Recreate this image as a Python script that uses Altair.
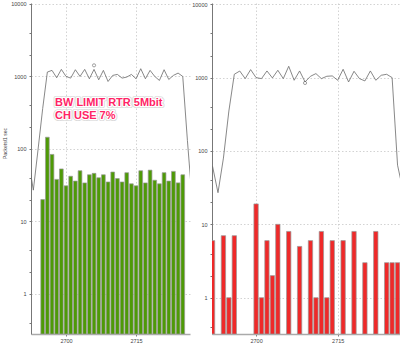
import altair as alt
import pandas as pd

# ---------------- data ----------------
left_bar_x = list(range(2695, 2726))
left_bar_y = [20, 145, 84, 38, 53, 31, 42, 36, 50, 34, 44, 46, 40, 44, 35, 48,
              39, 35, 47, 33, 31, 50, 34, 51, 37, 33, 47, 36, 49, 34, 44]

left_line_x = list(range(2692, 2728))
left_line_y = [68, 27, 97, 360,
               1149, 1212, 958, 1251, 1000, 948, 1238, 1000, 1251, 928,
               1251, 899, 1212, 852, 1033, 1066, 948, 979, 1066, 928,
               1278, 928, 1212, 1000, 880, 1238, 908, 1033, 1112, 1000,
               130, 20]
left_mark_x = [2706]
left_mark_y = [1422]

right_bar_x = [2692, 2694, 2695, 2696, 2700, 2701, 2702, 2703, 2704, 2706, 2708,
               2710, 2711, 2712, 2713, 2714, 2716, 2718, 2720, 2722, 2724, 2725, 2726]
right_bar_y = [6, 7, 1, 7, 19, 1, 6, 2, 10, 8, 5, 6, 1, 8, 1, 6, 6, 8, 3, 8, 3, 3, 3]

right_line_x = list(range(2692, 2728))
right_line_y = [62, 27, 80, 350,
                1110, 1230, 969, 1285, 1000, 969, 1233, 990, 1259, 969,
                1427, 920, 1233, 873, 1043, 1134, 969, 1043, 1054, 920,
                1299, 873, 1220, 969, 901, 1233, 920, 1076, 1110, 1000,
                64, 29]
right_mark_x = [2709]
right_mark_y = [845]

x_ticks = [2700, 2715]
y_major = [1, 10, 100, 1000, 10000]
y_minor = [0.4, 2, 4, 20, 40, 200, 400, 2000, 4000]

annotation = ["BW LIMIT RTR 5Mbit", "CH USE 7%"]
y_title = "Packets/1 sec"

H = 331
LEFT_W = 159
RIGHT_W = 188


def bar_df(xs, ys):
    return pd.DataFrame({"x0": [x - 0.4 for x in xs], "x1": [x + 0.4 for x in xs], "v": ys})


def panel(bx, by, lx, ly, mx, my, xdom, ydom, width, color, with_title, with_text):
    xs = alt.Scale(domain=xdom, nice=False, zero=False)
    ys = alt.Scale(type="log", domain=ydom, nice=False)
    major_test = "indexof([1,10,100,1000,10000], datum.value) >= 0"
    yaxis = alt.Axis(
        values=y_major + y_minor,
        labelExpr=f"{major_test} ? format(datum.value, 'd') : ''",
        gridOpacity={"condition": {"test": major_test, "value": 1}, "value": 0},
        grid=True, gridColor="#c8c8c8", gridDash=[1.5, 2], gridWidth=0.8,
        domainColor="#777", domainWidth=1, tickColor="#777", tickSize=2,
        labelFontSize=5.5, labelColor="#444", labelPadding=3,
        title=y_title if with_title else None,
        titleFontSize=5, titleFontWeight="normal", titleColor="#444",
        titleX=-24, titleY=140,
    )
    xaxis = alt.Axis(
        values=x_ticks, format="d", grid=True, gridColor="#c8c8c8", gridDash=[1.5, 2],
        gridWidth=0.8, domainColor="#aaa", domainWidth=1.5, tickColor="#777", tickSize=2,
        labelFontSize=5.5, labelColor="#444", labelPadding=2, title=None,
    )
    bars = alt.Chart(bar_df(bx, by)).mark_bar(
        fill=color, stroke="#9a9a9a", strokeWidth=0.7, clip=True
    ).encode(
        x=alt.X("x0:Q", scale=xs, axis=xaxis),
        x2="x1",
        y=alt.Y("v:Q", scale=ys, axis=yaxis),
        y2=alt.value(H),
    )
    line = alt.Chart(pd.DataFrame({"x": lx, "v": ly})).mark_line(
        color="#6a6a6a", strokeWidth=0.8, clip=True
    ).encode(
        x=alt.X("x:Q", scale=xs, axis=xaxis),
        y=alt.Y("v:Q", scale=ys, axis=yaxis),
    )
    marks = alt.Chart(pd.DataFrame({"x": mx, "v": my})).mark_point(
        shape="circle", filled=False, color="#555", size=10, strokeWidth=0.8
    ).encode(
        x=alt.X("x:Q", scale=xs, axis=xaxis),
        y=alt.Y("v:Q", scale=ys, axis=yaxis),
    )
    layers = [bars, line, marks]
    if with_text:
        for i, t in enumerate(annotation):
            base = alt.Chart(pd.DataFrame({"t": [t]}))
            pos = dict(x=alt.value(24), y=alt.value(103 + 13 * i), text="t:N")
            common = dict(align="left", baseline="alphabetic", fontSize=11,
                          fontWeight="bold", font="Liberation Sans")
            layers.append(base.mark_text(stroke="#dadada", strokeWidth=4.2,
                                         strokeJoin="round", fill="#dadada",
                                         **common).encode(**pos))
            layers.append(base.mark_text(stroke="white", strokeWidth=2.4,
                                         strokeJoin="round", fill="white",
                                         **common).encode(**pos))
            layers.append(base.mark_text(fill="#ff2466", **common).encode(**pos))
    return alt.layer(*layers).properties(width=width, height=H)


left = panel(left_bar_x, left_bar_y, left_line_x, left_line_y, left_mark_x, left_mark_y,
             [2692.5, 2726.55], [0.28, 10300], LEFT_W, "#4e9a06", True, True)
right = panel(right_bar_x, right_bar_y, right_line_x, right_line_y, right_mark_x, right_mark_y,
              [2691.9, 2726.45], [0.32, 10400], RIGHT_W, "#ef2929", False, False)

chart = alt.hconcat(left, right, spacing=22, bounds="flush").resolve_scale(
    x="independent", y="independent"
).properties(
    padding={"left": 2, "top": 1, "right": 0, "bottom": 0}
).configure(
    font="Liberation Sans", background="white"
).configure_view(stroke=None)

chart.save("out.html", embed_options={"renderer": "svg", "actions": False})
